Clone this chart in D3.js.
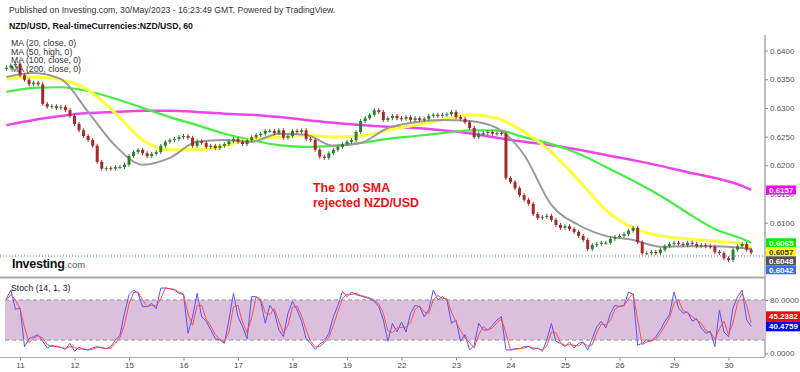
<!DOCTYPE html>
<html>
<head>
<meta charset="utf-8">
<script src="https://cdn.jsdelivr.net/npm/d3@7"></script>
<style>
  body { margin: 0; background: #fff; }
  svg { display: block; font-family: Arial, "Liberation Sans", sans-serif; }
</style>
</head>
<body>
<div id="chart"></div>
<script>
// day labels on the time axis, one every 12 two-hour bars
const dayLabels = ['11', '12', '15', '16', '17', '18', '19', '22', '23', '24', '25', '26', '29', '30'];

// 2-hour closes, first bar is index -3 (10 May, evening)
const firstOpen = 0.6368;
const closes = [
  0.6370, 0.6374, 0.6377, 0.6357, 0.6349, 0.6341, 0.6344, 0.6341, 0.6307, 0.6302,
  0.6303, 0.6300, 0.6302, 0.6296, 0.6286, 0.6272, 0.6261, 0.6251, 0.6244, 0.6234,
  0.6206, 0.6194, 0.6195, 0.6194, 0.6197, 0.6197, 0.6201, 0.6216, 0.6223, 0.6227,
  0.6221, 0.6216, 0.6220, 0.6223, 0.6234, 0.6241, 0.6244, 0.6246, 0.6249, 0.6251,
  0.6248, 0.6234, 0.6242, 0.6239, 0.6232, 0.6234, 0.6230, 0.6234, 0.6237, 0.6242,
  0.6246, 0.6241, 0.6237, 0.6244, 0.6249, 0.6253, 0.6255, 0.6260, 0.6260, 0.6256,
  0.6261, 0.6248, 0.6251, 0.6260, 0.6258, 0.6261, 0.6246, 0.6244, 0.6227, 0.6215,
  0.6213, 0.6221, 0.6227, 0.6232, 0.6237, 0.6241, 0.6244, 0.6258, 0.6277, 0.6282,
  0.6288, 0.6296, 0.6293, 0.6279, 0.6282, 0.6286, 0.6282, 0.6281, 0.6284, 0.6279,
  0.6282, 0.6279, 0.6281, 0.6286, 0.6288, 0.6286, 0.6288, 0.6289, 0.6293, 0.6284,
  0.6281, 0.6275, 0.6265, 0.6249, 0.6255, 0.6256, 0.6258, 0.6255, 0.6256, 0.6255,
  0.6178, 0.6171, 0.6160, 0.6148, 0.6140, 0.6133, 0.6115, 0.6108, 0.6110, 0.6112,
  0.6105, 0.6096, 0.6091, 0.6094, 0.6089, 0.6084, 0.6077, 0.6070, 0.6054, 0.6061,
  0.6063, 0.6065, 0.6065, 0.6072, 0.6075, 0.6077, 0.6080, 0.6086, 0.6091, 0.6066,
  0.6047, 0.6047, 0.6049, 0.6047, 0.6053, 0.6059, 0.6063, 0.6065, 0.6063, 0.6061,
  0.6065, 0.6063, 0.6059, 0.6061, 0.6059, 0.6058, 0.6049, 0.6047, 0.6038, 0.6035,
  0.6053, 0.6059, 0.6063, 0.6053, 0.6048
];

// moving averages, sampled every 6 bars (index -3, 3, ... 159) plus the last bar
const ma20 = [
  0.6354, 0.6361, 0.6350, 0.6293, 0.6234, 0.6201, 0.6213, 0.6241, 0.6244, 0.6241,
  0.6255, 0.6253, 0.6234, 0.6239, 0.6265, 0.6275, 0.6279, 0.6277, 0.6265, 0.6218,
  0.6131, 0.6096, 0.6077, 0.6070, 0.6058, 0.6059, 0.6059, 0.6056, 0.6054
];
const ma50high = [
  0.6350, 0.6354, 0.6349, 0.6331, 0.6291, 0.6244, 0.6227, 0.6227, 0.6234, 0.6246,
  0.6249, 0.6253, 0.6249, 0.6251, 0.6261, 0.6270, 0.6279, 0.6288, 0.6282, 0.6258,
  0.6223, 0.6174, 0.6122, 0.6091, 0.6077, 0.6072, 0.6068, 0.6063, 0.6057
];
const ma100 = [
  0.6328, 0.6335, 0.6336, 0.6329, 0.6316, 0.6300, 0.6284, 0.6270, 0.6255, 0.6244,
  0.6235, 0.6232, 0.6234, 0.6239, 0.6246, 0.6251, 0.6256, 0.6261, 0.6261, 0.6249,
  0.6237, 0.6220, 0.6197, 0.6173, 0.6147, 0.6117, 0.6089, 0.6072, 0.6065
];
const ma200 = [
  0.6270, 0.6279, 0.6286, 0.6291, 0.6293, 0.6295, 0.6295, 0.6293, 0.6290, 0.6288,
  0.6284, 0.6279, 0.6274, 0.6270, 0.6267, 0.6265, 0.6261, 0.6256, 0.6248, 0.6241,
  0.6235, 0.6227, 0.6218, 0.6209, 0.6199, 0.6188, 0.6178, 0.6164, 0.6157
];

// stochastic (14, 1, 3), same bars as closes
const stochK = [
  82, 95, 66, 68, 10, 22, 25, 28, 18, 8, 12, 10, 9, 6, 15, 3, 9, 6, 5, 8,
  10, 8, 7, 10, 20, 27, 60, 88, 95, 90, 70, 70, 75, 67, 98, 98, 97, 95, 90, 88,
  30, 55, 90, 55, 48, 35, 22, 20, 15, 50, 90, 55, 40, 22, 85, 85, 78, 45, 72, 62,
  35, 25, 60, 78, 65, 48, 22, 15, 6, 14, 18, 30, 55, 72, 93, 85, 92, 88, 86, 84,
  82, 78, 70, 50, 18, 45, 32, 47, 32, 60, 72, 70, 55, 65, 95, 80, 85, 80, 45, 50,
  18, 28, 5, 12, 45, 35, 35, 42, 50, 55, 5, 5, 7, 7, 10, 10, 6, 8, 3, 20,
  45, 18, 15, 10, 17, 8, 15, 17, 5, 22, 40, 48, 38, 60, 72, 70, 72, 92, 88, 12,
  15, 20, 18, 25, 35, 48, 58, 92, 68, 60, 62, 48, 52, 38, 30, 33, 10, 65, 32, 25,
  68, 85, 95, 50, 40.4759
];
const stochD = [
  80, 88, 80, 67, 39, 16, 23, 26, 23, 13, 10, 11, 9, 7, 10, 9, 6, 7, 5, 6,
  9, 9, 7, 8, 15, 23, 43, 74, 91, 92, 80, 70, 72, 71, 82, 98, 97, 96, 92, 89,
  59, 42, 72, 72, 51, 41, 28, 21, 17, 32, 70, 72, 47, 31, 53, 85, 81, 61, 58, 67,
  48, 30, 42, 69, 71, 56, 35, 18, 10, 10, 16, 24, 42, 63, 82, 89, 88, 90, 87, 85,
  83, 80, 74, 60, 34, 31, 38, 39, 39, 46, 66, 71, 62, 60, 80, 87, 82, 82, 62, 47,
  34, 23, 16, 8, 28, 40, 35, 38, 46, 52, 30, 5, 6, 7, 8, 10, 8, 7, 5, 11,
  32, 31, 16, 12, 13, 12, 11, 16, 11, 13, 31, 44, 43, 49, 66, 71, 71, 82, 90, 50,
  13, 17, 19, 21, 30, 41, 53, 75, 80, 64, 61, 55, 50, 45, 34, 31, 21, 37, 48, 28,
  46, 76, 90, 72, 45.2382
];

const priceTicks = ['0.6100', '0.6150', '0.6200', '0.6250', '0.6300', '0.6350', '0.6400'];
const stochTicks = ['0.0000', '80.0000'];
const bidPrice = 0.6042;

const width = 800, height = 372;
const plotRight = 765;

const svg = d3.create('svg')
    .attr('width', width)
    .attr('height', height);

// scales
const x = d3.scaleLinear().domain([0, 156]).range([20, 728.5]);
const y = d3.scaleLinear().domain([0.61, 0.64]).range([222.7, 50.5]);
const ys = d3.scaleLinear().domain([0, 80]).range([353.3, 300]);

svg.append('clipPath').attr('id', 'price-clip')
    .append('rect').attr('x', 0).attr('y', 35).attr('width', plotRight).attr('height', 242);
svg.append('clipPath').attr('id', 'stoch-clip')
    .append('rect').attr('x', 0).attr('y', 279).attr('width', plotRight).attr('height', 78);

// header
svg.append('text').attr('x', 9).attr('y', 12.5)
    .attr('font-size', 8.7).attr('fill', '#333')
    .text('Published on Investing.com, 30/May/2023 - 16:23:49 GMT, Powered by TradingView.');
svg.append('text').attr('x', 9).attr('y', 28.5)
    .attr('font-size', 8.7).attr('font-weight', 'bold').attr('fill', '#111')
    .text('NZD/USD, Real-timeCurrencies:NZD/USD, 60');

// frame lines
svg.append('line').attr('x1', plotRight).attr('x2', plotRight).attr('y1', 35).attr('y2', 357)
    .attr('stroke', '#aaa').attr('stroke-width', 1.5);
svg.append('line').attr('x1', 0).attr('x2', plotRight).attr('y1', 277.5).attr('y2', 277.5)
    .attr('stroke', '#aaa').attr('stroke-width', 2);
svg.append('line').attr('x1', 0).attr('x2', plotRight).attr('y1', 357.5).attr('y2', 357.5)
    .attr('stroke', '#aaa').attr('stroke-width', 1);

// price axis
const yAxis = svg.append('g')
    .attr('transform', `translate(${plotRight},0)`)
    .call(d3.axisRight(y).tickValues(priceTicks.map(Number)).tickSize(3).tickFormat(d => d.toFixed(4)));
yAxis.select('.domain').remove();
yAxis.selectAll('line').attr('stroke', '#888');
yAxis.selectAll('text').attr('font-size', 8).attr('fill', '#555').attr('x', 5)
    .attr('font-family', 'Arial, "Liberation Sans", sans-serif');

// stoch axis
const sAxis = svg.append('g')
    .attr('transform', `translate(${plotRight},0)`)
    .call(d3.axisRight(ys).tickValues(stochTicks.map(Number)).tickSize(3).tickFormat(d => d.toFixed(4)));
sAxis.select('.domain').remove();
sAxis.selectAll('line').attr('stroke', '#888');
sAxis.selectAll('text').attr('font-size', 8).attr('fill', '#555').attr('x', 5)
    .attr('font-family', 'Arial, "Liberation Sans", sans-serif');

// time axis
const xAxis = svg.append('g')
    .attr('transform', 'translate(0,357.5)')
    .call(d3.axisBottom(x).tickValues(d3.range(0, 157, 12)).tickSize(3).tickFormat((d, i) => dayLabels[i]));
xAxis.select('.domain').remove();
xAxis.selectAll('line').attr('stroke', '#888');
xAxis.selectAll('text').attr('font-size', 8).attr('fill', '#444').attr('y', 5)
    .attr('font-family', 'Arial, "Liberation Sans", sans-serif');

// price panel
const price = svg.append('g').attr('clip-path', 'url(#price-clip)');
const bars = closes.map((c, i) => ({ i: i - 3, o: i === 0 ? firstOpen : closes[i - 1], c: c }));

const maIdx = d3.range(-3, 160, 6).concat([161]);
const maLine = d3.line().x((d, i) => x(maIdx[i])).y(d => y(d)).curve(d3.curveMonotoneX);

price.append('path').datum(ma200).attr('d', maLine)
    .attr('fill', 'none').attr('stroke', '#ee44ee').attr('stroke-width', 2.5);
price.append('path').datum(ma100).attr('d', maLine)
    .attr('fill', 'none').attr('stroke', '#44ee44').attr('stroke-width', 2.2);
price.append('path').datum(ma50high).attr('d', maLine)
    .attr('fill', 'none').attr('stroke', '#ffff3a').attr('stroke-width', 3);
price.append('path').datum(ma20).attr('d', maLine)
    .attr('fill', 'none').attr('stroke', '#9a9a9a').attr('stroke-width', 2);

const candle = price.selectAll('.candle').data(bars).enter().append('g').attr('class', 'candle');
candle.append('line')
    .attr('x1', d => x(d.i)).attr('x2', d => x(d.i))
    .attr('y1', d => y(Math.max(d.o, d.c)) - 2)
    .attr('y2', d => y(Math.min(d.o, d.c)) + 2)
    .attr('stroke', d => d.c >= d.o ? '#2e7d32' : '#a52a2a').attr('stroke-width', 1);
candle.append('rect')
    .attr('x', d => x(d.i) - 1.5)
    .attr('y', d => y(Math.max(d.o, d.c)))
    .attr('width', 3)
    .attr('height', d => Math.max(1, Math.abs(y(d.o) - y(d.c))))
    .attr('fill', d => d.c >= d.o ? '#2e7d32' : '#a52a2a');

// bid line
svg.append('line').attr('x1', 0).attr('x2', plotRight).attr('y1', y(bidPrice)).attr('y2', y(bidPrice))
    .attr('stroke', '#3366ff').attr('stroke-width', 1).attr('stroke-dasharray', '1,2');

// MA legend
const legend = ['MA (20, close, 0)', 'MA (50, high, 0)', 'MA (100, close, 0)', 'MA (200, close, 0)'];
svg.selectAll('.legend').data(legend).enter().append('text')
    .attr('x', 11).attr('y', (d, i) => 46 + i * 8.6)
    .attr('font-size', 8.7).attr('fill', '#333').text(d => d);

// annotation
svg.append('text').attr('x', 313).attr('y', 192).attr('font-size', 12.4).attr('font-weight', 'bold')
    .attr('fill', '#ee1111').text('The 100 SMA');
svg.append('text').attr('x', 313).attr('y', 207).attr('font-size', 12.4).attr('font-weight', 'bold')
    .attr('fill', '#ee1111').text('rejected NZD/USD');

// logo
const logo = svg.append('text').attr('x', 12).attr('y', 268);
logo.append('tspan').attr('font-size', 12.6).attr('font-weight', 'bold').attr('fill', '#111')
    .attr('letter-spacing', -0.3).text('Investing');
logo.append('tspan').attr('font-size', 9.5).attr('fill', '#555').text('.com');

// last value boxes on price axis
const priceBoxes = [
    { v: ma200[ma200.length - 1], bg: '#ff00ff', fg: '#fff' },
    { v: ma100[ma100.length - 1], bg: '#00ee00', fg: '#fff' },
    { v: ma50high[ma50high.length - 1], bg: '#ffff00', fg: '#333' },
    { v: closes[closes.length - 1], bg: '#555555', fg: '#fff' },
    { v: bidPrice, bg: '#3d6ee8', fg: '#fff' }
];
let lastY = -Infinity;
priceBoxes.forEach(b => {
    b.y = Math.max(y(b.v), lastY + 9);
    lastY = b.y;
});
const pb = svg.selectAll('.pbox').data(priceBoxes).enter().append('g');
pb.append('rect').attr('x', 766).attr('y', d => d.y - 4.5).attr('width', 30).attr('height', 9)
    .attr('fill', d => d.bg);
pb.append('text').attr('x', 769).attr('y', d => d.y + 3).attr('font-size', 8).attr('font-weight', 'bold')
    .attr('fill', d => d.fg).text(d => d.v.toFixed(4));

// stoch panel
svg.append('text').attr('x', 11).attr('y', 291).attr('font-size', 8.7).attr('fill', '#222')
    .text('Stoch (14, 1, 3)');

const stoch = svg.append('g').attr('clip-path', 'url(#stoch-clip)');
stoch.append('rect').attr('x', 5).attr('width', plotRight - 5)
    .attr('y', ys(80)).attr('height', ys(20) - ys(80)).attr('fill', '#dcbfdc');
[20, 80].forEach(v => {
    stoch.append('line').attr('x1', 5).attr('x2', plotRight).attr('y1', ys(v)).attr('y2', ys(v))
        .attr('stroke', '#aaa').attr('stroke-width', 1.5).attr('stroke-dasharray', '4,3');
});
const sLine = d3.line().x((d, i) => x(i - 3)).y(d => ys(d));
stoch.append('path').datum(stochK).attr('d', sLine)
    .attr('fill', 'none').attr('stroke', '#5555ff').attr('stroke-width', 1);
stoch.append('path').datum(stochD).attr('d', sLine)
    .attr('fill', 'none').attr('stroke', '#ff4d4d').attr('stroke-width', 1);

// stoch value boxes, red one pushed above blue
const kLast = stochK[stochK.length - 1], dLast = stochD[stochD.length - 1];
const kY = ys(kLast);
const dY = Math.min(ys(dLast), kY - 10);
[{ v: dLast, yy: dY, bg: '#ff0000' }, { v: kLast, yy: kY, bg: '#0000ff' }].forEach(b => {
    svg.append('rect').attr('x', 766).attr('y', b.yy - 5).attr('width', 34).attr('height', 10).attr('fill', b.bg);
    svg.append('text').attr('x', 769).attr('y', b.yy + 3).attr('font-size', 8).attr('font-weight', 'bold')
        .attr('fill', '#fff').text(b.v.toFixed(4));
});

document.getElementById('chart').appendChild(svg.node());
</script>
</body>
</html>
